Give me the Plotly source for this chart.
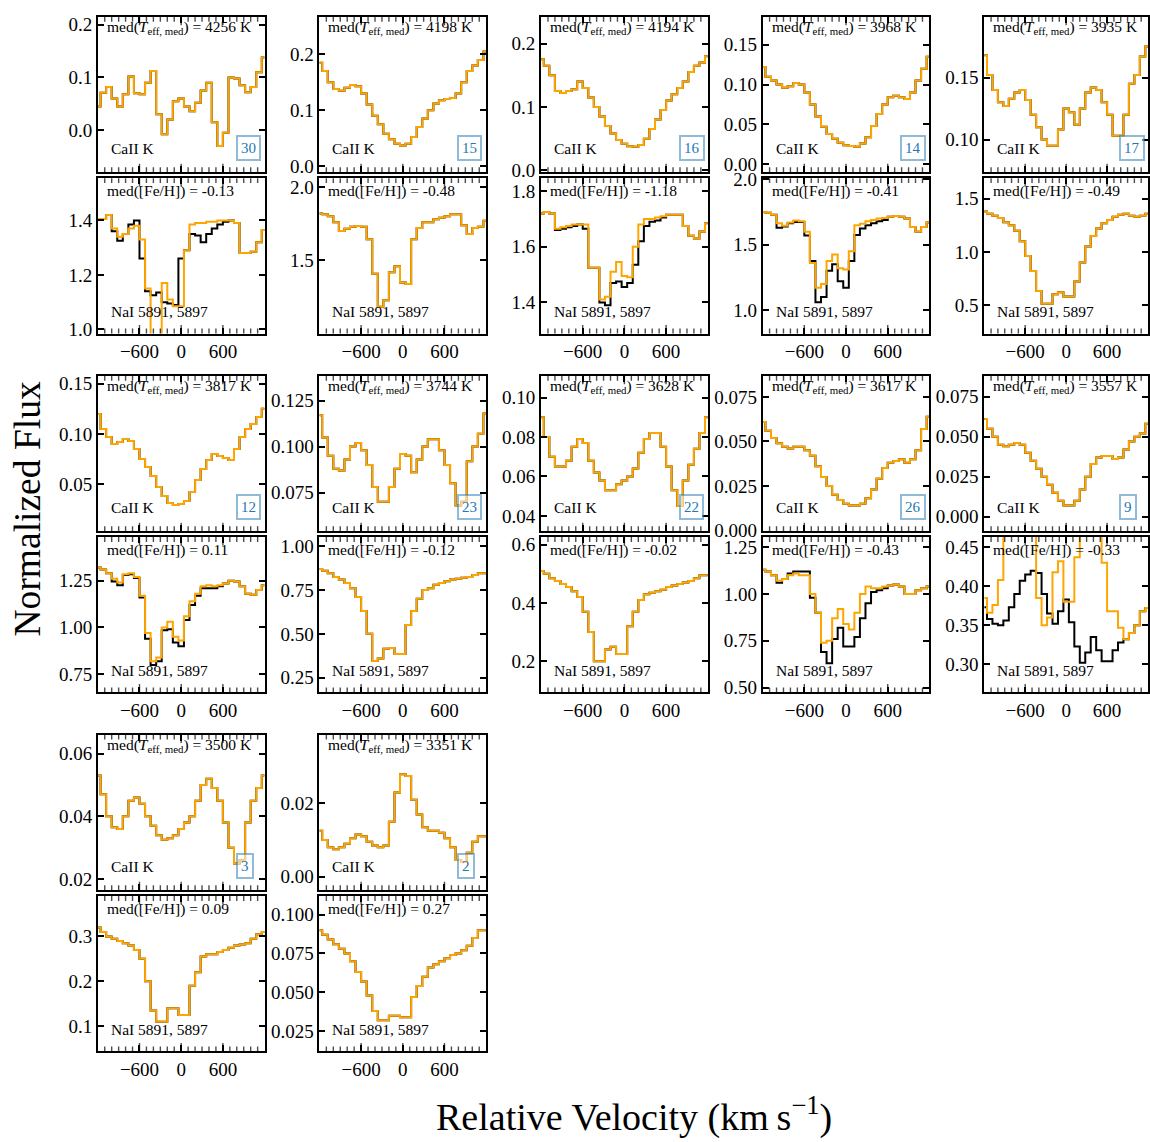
import plotly.graph_objects as go

# ---------------- data ----------------
velocity = [-1200, -1120, -1040, -960, -880, -800, -720, -640, -560, -480, -400, -320,
            -240, -160, -80, 0, 80, 160, 240, 320, 400, 480, 560, 640, 720, 800, 880,
            960, 1040, 1120, 1200]

teff_med = [4256, 4198, 4194, 3968, 3935, 3817, 3744, 3628, 3617, 3557, 3500, 3351]
feh_med = ["-0.13", "-0.48", "-1.18", "-0.41", "-0.49", "0.11", "-0.12", "-0.02",
           "-0.43", "-0.33", "0.09", "0.27"]
n_stars = [30, 15, 16, 14, 17, 12, 23, 22, 26, 9, 3, 2]

caii_4256 = [0.045, 0.071, 0.082, 0.060, 0.045, 0.068, 0.102, 0.070, 0.068, 0.090, 0.112, 0.030,
             -0.008, 0.020, 0.055, 0.060, 0.045, 0.036, 0.052, 0.075, 0.090, 0.015, -0.030,
             -0.005, 0.100, 0.098, 0.085, 0.072, 0.082, 0.110, 0.138]
caii_4198 = [0.185, 0.170, 0.150, 0.138, 0.135, 0.140, 0.145, 0.143, 0.130, 0.110, 0.090, 0.075,
             0.058, 0.048, 0.040, 0.037, 0.040, 0.052, 0.070, 0.085, 0.100, 0.112, 0.118, 0.120,
             0.122, 0.130, 0.150, 0.170, 0.180, 0.190, 0.205]
caii_4194 = [0.175, 0.165, 0.150, 0.125, 0.122, 0.125, 0.128, 0.140, 0.130, 0.115, 0.100, 0.085,
             0.070, 0.058, 0.048, 0.042, 0.038, 0.037, 0.040, 0.050, 0.065, 0.080, 0.095, 0.110,
             0.120, 0.130, 0.140, 0.155, 0.165, 0.170, 0.180]
caii_3968 = [0.122, 0.110, 0.105, 0.100, 0.096, 0.098, 0.102, 0.100, 0.090, 0.075, 0.060, 0.047,
             0.038, 0.032, 0.027, 0.024, 0.023, 0.022, 0.026, 0.034, 0.048, 0.063, 0.075, 0.084,
             0.086, 0.084, 0.082, 0.090, 0.105, 0.120, 0.135]
caii_3935 = [0.168, 0.152, 0.140, 0.130, 0.127, 0.133, 0.138, 0.140, 0.132, 0.120, 0.110, 0.100,
             0.095, 0.095, 0.108, 0.125, 0.122, 0.112, 0.125, 0.138, 0.142, 0.140, 0.130, 0.120,
             0.103, 0.103, 0.120, 0.145, 0.152, 0.167, 0.175]
caii_3817 = [0.120, 0.105, 0.097, 0.090, 0.092, 0.095, 0.093, 0.085, 0.075, 0.067, 0.058, 0.047,
             0.038, 0.031, 0.029, 0.030, 0.033, 0.042, 0.054, 0.065, 0.074, 0.080, 0.078, 0.076,
             0.074, 0.085, 0.097, 0.105, 0.110, 0.117, 0.125]
caii_3744 = [0.117, 0.105, 0.095, 0.088, 0.087, 0.093, 0.100, 0.102, 0.098, 0.090, 0.078, 0.070,
             0.070, 0.078, 0.088, 0.096, 0.095, 0.086, 0.093, 0.100, 0.104, 0.104, 0.098, 0.090,
             0.080, 0.068, 0.070, 0.092, 0.100, 0.107, 0.118]
caii_3628 = [0.090, 0.080, 0.070, 0.065, 0.065, 0.068, 0.075, 0.079, 0.077, 0.068, 0.062, 0.058,
             0.053, 0.053, 0.056, 0.058, 0.060, 0.064, 0.072, 0.079, 0.082, 0.082, 0.075, 0.065,
             0.053, 0.045, 0.058, 0.066, 0.074, 0.082, 0.090]
caii_3617 = [0.061, 0.056, 0.052, 0.049, 0.047, 0.046, 0.047, 0.047, 0.045, 0.042, 0.036, 0.030,
             0.025, 0.020, 0.017, 0.015, 0.014, 0.014, 0.015, 0.018, 0.023, 0.029, 0.035, 0.038,
             0.039, 0.040, 0.038, 0.040, 0.045, 0.057, 0.064]
caii_3557 = [0.061, 0.055, 0.050, 0.045, 0.044, 0.045, 0.046, 0.045, 0.040, 0.035, 0.030, 0.025,
             0.020, 0.015, 0.010, 0.007, 0.007, 0.010, 0.017, 0.025, 0.033, 0.037, 0.038, 0.038,
             0.036, 0.037, 0.042, 0.047, 0.050, 0.052, 0.058]
caii_3500 = [0.053, 0.047, 0.040, 0.0365, 0.036, 0.040, 0.045, 0.046, 0.044, 0.040, 0.037, 0.034,
             0.0325, 0.033, 0.034, 0.036, 0.038, 0.040, 0.045, 0.050, 0.052, 0.049, 0.045, 0.038,
             0.030, 0.025, 0.026, 0.038, 0.045, 0.049, 0.053]
caii_3351 = [0.0125, 0.0100, 0.0080, 0.0075, 0.0080, 0.0090, 0.0105, 0.0115, 0.0110, 0.0095,
             0.0085, 0.0080, 0.0085, 0.0150, 0.0230, 0.0280, 0.0275, 0.0210, 0.0170, 0.0135,
             0.0125, 0.0125, 0.0120, 0.0105, 0.0080, 0.0045, 0.0040, 0.0065, 0.0095, 0.0110, 0.0110]

nai_orange_4256 = [1.405, 1.405, 1.420, 1.370, 1.340, 1.350, 1.370, 1.380, 1.330, 1.150, 0.950,
                   0.950, 1.170, 1.110, 1.085, 1.085, 1.290, 1.385, 1.390, 1.390, 1.395, 1.395,
                   1.400, 1.400, 1.400, 1.390, 1.280, 1.280, 1.285, 1.320, 1.365]
nai_black_4256 = [1.405, 1.405, 1.420, 1.360, 1.325, 1.350, 1.385, 1.400, 1.260, 1.140, 1.125,
                  1.135, 1.100, 1.095, 1.090, 1.260, 1.290, 1.350, 1.345, 1.320, 1.350, 1.370,
                  1.385, 1.395, 1.400, 1.390, 1.280, 1.280, 1.285, 1.320, 1.365]
nai_orange_4198 = [1.820, 1.815, 1.800, 1.760, 1.700, 1.715, 1.730, 1.735, 1.730, 1.645, 1.410,
                   1.185, 1.230, 1.420, 1.460, 1.350, 1.340, 1.645, 1.720, 1.760, 1.760, 1.780,
                   1.790, 1.800, 1.815, 1.815, 1.740, 1.680, 1.720, 1.730, 1.770]
nai_black_4198 = nai_orange_4198
nai_orange_4194 = [1.720, 1.725, 1.720, 1.665, 1.670, 1.675, 1.680, 1.680, 1.680, 1.525, 1.525,
                   1.410, 1.420, 1.510, 1.545, 1.495, 1.490, 1.600, 1.680, 1.700, 1.700, 1.705,
                   1.710, 1.715, 1.715, 1.715, 1.675, 1.640, 1.630, 1.655, 1.685]
nai_black_4194 = [1.720, 1.725, 1.720, 1.660, 1.665, 1.670, 1.675, 1.680, 1.665, 1.525, 1.525,
                  1.400, 1.390, 1.470, 1.475, 1.455, 1.470, 1.535, 1.620, 1.675, 1.690, 1.695,
                  1.705, 1.715, 1.715, 1.715, 1.675, 1.640, 1.630, 1.655, 1.685]
nai_orange_3968 = [1.750, 1.745, 1.730, 1.665, 1.645, 1.670, 1.685, 1.680, 1.600, 1.360, 1.170,
                   1.200, 1.375, 1.425, 1.320, 1.310, 1.450, 1.650, 1.660, 1.680, 1.690, 1.700,
                   1.705, 1.715, 1.720, 1.715, 1.700, 1.635, 1.600, 1.635, 1.670]
nai_black_3968 = [1.750, 1.745, 1.730, 1.630, 1.640, 1.665, 1.675, 1.675, 1.570, 1.375, 1.060,
                  1.100, 1.300, 1.350, 1.220, 1.170, 1.375, 1.575, 1.625, 1.650, 1.665, 1.680,
                  1.690, 1.715, 1.720, 1.715, 1.700, 1.635, 1.600, 1.635, 1.670]
nai_orange_3935 = [1.380, 1.360, 1.340, 1.320, 1.280, 1.250, 1.200, 1.100, 0.960, 0.820, 0.630,
                   0.510, 0.510, 0.600, 0.620, 0.580, 0.580, 0.720, 0.900, 1.050, 1.150, 1.220,
                   1.270, 1.300, 1.330, 1.350, 1.360, 1.340, 1.330, 1.340, 1.360]
nai_black_3935 = nai_orange_3935
nai_orange_3817 = [1.320, 1.310, 1.290, 1.260, 1.240, 1.285, 1.290, 1.270, 1.170, 0.970, 0.820,
                   0.840, 1.000, 1.030, 0.950, 0.930, 1.060, 1.140, 1.180, 1.220, 1.225, 1.220,
                   1.225, 1.235, 1.250, 1.245, 1.220, 1.180, 1.175, 1.200, 1.225]
nai_black_3817 = [1.320, 1.310, 1.290, 1.245, 1.225, 1.280, 1.285, 1.265, 1.160, 0.940, 0.800,
                  0.820, 0.985, 0.990, 0.920, 0.900, 1.040, 1.120, 1.170, 1.210, 1.210, 1.210,
                  1.220, 1.235, 1.250, 1.245, 1.220, 1.180, 1.175, 1.200, 1.225]
nai_orange_3744 = [0.870, 0.860, 0.845, 0.825, 0.810, 0.790, 0.760, 0.710, 0.630, 0.500, 0.345,
                   0.360, 0.415, 0.420, 0.385, 0.385, 0.550, 0.630, 0.700, 0.750, 0.760, 0.780,
                   0.790, 0.800, 0.810, 0.815, 0.820, 0.825, 0.835, 0.845, 0.845]
nai_black_3744 = nai_orange_3744
nai_orange_3628 = [0.510, 0.500, 0.485, 0.475, 0.465, 0.455, 0.440, 0.420, 0.370, 0.300, 0.200,
                   0.200, 0.240, 0.250, 0.225, 0.225, 0.320, 0.370, 0.410, 0.430, 0.435, 0.440,
                   0.445, 0.455, 0.460, 0.465, 0.470, 0.475, 0.485, 0.495, 0.495]
nai_black_3628 = nai_orange_3628
nai_orange_3617 = [1.130, 1.120, 1.100, 1.070, 1.080, 1.100, 1.110, 1.100, 1.100, 1.000, 0.900,
                   0.740, 0.750, 0.870, 0.920, 0.840, 0.810, 0.900, 1.000, 1.040, 1.030, 1.030,
                   1.040, 1.045, 1.050, 1.040, 1.000, 1.000, 1.020, 1.030, 1.040]
nai_black_3617 = [1.130, 1.120, 1.100, 1.060, 1.080, 1.110, 1.120, 1.120, 1.120, 0.980, 0.900,
                  0.690, 0.630, 0.760, 0.820, 0.720, 0.720, 0.770, 0.870, 0.950, 1.010, 1.020,
                  1.030, 1.045, 1.050, 1.040, 1.000, 1.000, 1.020, 1.030, 1.040]
nai_orange_3557 = [0.385, 0.366, 0.376, 0.408, 0.480, 0.500, 0.520, 0.500, 0.480, 0.470, 0.385,
                   0.350, 0.360, 0.418, 0.432, 0.380, 0.380, 0.437, 0.480, 0.500, 0.500, 0.480,
                   0.430, 0.368, 0.368, 0.347, 0.332, 0.340, 0.350, 0.368, 0.372]
nai_black_3557 = [0.373, 0.358, 0.352, 0.350, 0.356, 0.373, 0.390, 0.407, 0.415, 0.420, 0.417,
                  0.390, 0.365, 0.352, 0.368, 0.383, 0.354, 0.323, 0.302, 0.315, 0.335, 0.318,
                  0.304, 0.304, 0.318, 0.328, 0.332, 0.340, 0.350, 0.368, 0.372]
nai_orange_3500 = [0.320, 0.310, 0.300, 0.295, 0.290, 0.285, 0.280, 0.270, 0.250, 0.200, 0.135,
                   0.110, 0.110, 0.140, 0.140, 0.125, 0.125, 0.190, 0.220, 0.255, 0.260, 0.260,
                   0.265, 0.270, 0.275, 0.280, 0.282, 0.285, 0.295, 0.305, 0.310]
nai_black_3500 = nai_orange_3500
nai_orange_3351 = [0.090, 0.087, 0.084, 0.081, 0.078, 0.075, 0.070, 0.063, 0.057, 0.048, 0.038,
                   0.032, 0.032, 0.035, 0.035, 0.034, 0.034, 0.047, 0.054, 0.060, 0.066, 0.068,
                   0.070, 0.072, 0.074, 0.075, 0.077, 0.080, 0.085, 0.090, 0.090]
nai_black_3351 = nai_orange_3351

caii_series = [caii_4256, caii_4198, caii_4194, caii_3968, caii_3935, caii_3817,
               caii_3744, caii_3628, caii_3617, caii_3557, caii_3500, caii_3351]
nai_orange = [nai_orange_4256, nai_orange_4198, nai_orange_4194, nai_orange_3968,
              nai_orange_3935, nai_orange_3817, nai_orange_3744, nai_orange_3628,
              nai_orange_3617, nai_orange_3557, nai_orange_3500, nai_orange_3351]
nai_black = [nai_black_4256, nai_black_4198, nai_black_4194, nai_black_3968,
             nai_black_3935, nai_black_3817, nai_black_3744, nai_black_3628,
             nai_black_3617, nai_black_3557, nai_black_3500, nai_black_3351]

x_major_step = 600   # labelled ticks at -600, 0, 600
x_minor_step = 100
caii_ticklabels = [["0.0", "0.1", "0.2"], ["0.0", "0.1", "0.2"], ["0.0", "0.1", "0.2"],
                   ["0.00", "0.05", "0.10", "0.15"], ["0.10", "0.15"], ["0.05", "0.10", "0.15"],
                   ["0.075", "0.100", "0.125"], ["0.04", "0.06", "0.08", "0.10"],
                   ["0.000", "0.025", "0.050", "0.075"], ["0.000", "0.025", "0.050", "0.075"],
                   ["0.02", "0.04", "0.06"], ["0.00", "0.02"]]
nai_ticklabels = [["1.0", "1.2", "1.4"], ["1.5", "2.0"], ["1.4", "1.6", "1.8"],
                  ["1.0", "1.5", "2.0"], ["0.5", "1.0", "1.5"], ["0.75", "1.00", "1.25"],
                  ["0.25", "0.50", "0.75", "1.00"], ["0.2", "0.4", "0.6"],
                  ["0.50", "0.75", "1.00", "1.25"], ["0.30", "0.35", "0.40", "0.45"],
                  ["0.1", "0.2", "0.3"], ["0.025", "0.050", "0.075", "0.100"]]

# ---------------- layout / style ----------------
W, H = 1150, 1142
FONT = "Liberation Serif"
ORANGE = "#FFA500"
X_RANGE = [-1199.5, 1199.5]
caii_ranges = [[-0.08, 0.215], [-0.011, 0.267], [-0.003, 0.242], [-0.01, 0.185],
               [0.0736, 0.199], [0.003, 0.158], [0.054, 0.1385], [0.0323, 0.111],
               [-0.0005, 0.087], [-0.009, 0.088], [0.0165, 0.066], [-0.0037, 0.0388]]
nai_ranges = [[0.985, 1.555], [1.003, 2.06], [1.288, 1.847], [0.82, 2.01], [0.23, 1.695],
              [0.653, 1.483], [0.166, 1.052], [0.093, 0.626], [0.474, 1.304],
              [0.264, 0.463], [0.044, 0.39], [0.012, 0.112]]

# positions of the x tick marks on top and bottom spines (major every 600, minor every 100)
tick_positions = list(range(-1100, 1101, x_minor_step))
tick_sizes = [12 if v % x_major_step == 0 else 7 for v in tick_positions]

fig = go.Figure()
layout = dict(width=W, height=H, margin=dict(l=0, r=0, t=0, b=0),
              paper_bgcolor="white", plot_bgcolor="white", showlegend=False,
              font=dict(family=FONT, color="black"))
annotations = []

axis_common = dict(showline=True, linecolor="black", linewidth=1.8, mirror="allticks",
                   ticks="inside", ticklen=6, tickwidth=1.6, tickcolor="black",
                   showgrid=False, zeroline=False,
                   tickfont=dict(family=FONT, size=19, color="black"))

for k in range(12):
    block, col = divmod(k, 5)
    x0 = (98 + 222 * col) / W
    x1 = min((265 + 222 * col) / W, 1.0)
    for j, kind in enumerate(["caii", "nai"]):
        n = 2 * k + 1 + j
        top = 8 + 365 * block + 164 * j
        bot = top + 158
        ydom = [1 - bot / H, 1 - top / H]
        if kind == "caii":
            labels = caii_ticklabels[k]
            yr = caii_ranges[k]
            yb, yo = caii_series[k], caii_series[k]
        else:
            labels = nai_ticklabels[k]
            yr = nai_ranges[k]
            yb, yo = nai_black[k], nai_orange[k]
        xa = dict(axis_common, domain=[x0, x1], range=X_RANGE, anchor=f"y{n}",
                  tickmode="linear", tick0=0, dtick=x_major_step,
                  showticklabels=(kind == "nai"))
        ya = dict(axis_common, domain=ydom, range=yr, anchor=f"x{n}",
                  tickmode="array", tickvals=[float(v) for v in labels], ticktext=labels)
        suffix = "" if n == 1 else str(n)
        layout["xaxis" + suffix] = xa
        layout["yaxis" + suffix] = ya
        xref, yref = f"x{suffix}", f"y{suffix}"
        fig.add_trace(go.Scatter(x=velocity, y=yb, mode="lines", xaxis=xref, yaxis=yref,
                                 line=dict(color="black", width=2, shape="hvh"),
                                 hoverinfo="skip"))
        fig.add_trace(go.Scatter(x=velocity, y=yo, mode="lines", xaxis=xref, yaxis=yref,
                                 line=dict(color=ORANGE, width=2, shape="hvh"),
                                 hoverinfo="skip"))
        # x tick marks on bottom and top spines (half of each clipped outside the frame)
        fig.add_trace(go.Scatter(x=tick_positions + tick_positions,
                                 y=[yr[0]] * len(tick_positions) + [yr[1]] * len(tick_positions),
                                 mode="markers", xaxis=xref, yaxis=yref, cliponaxis=True,
                                 marker=dict(symbol="line-ns-open", size=tick_sizes + tick_sizes,
                                             color="black",
                                             line=dict(color="black", width=1.4)),
                                 hoverinfo="skip"))
        dx, dy = f"{xref} domain", f"{yref} domain"
        if kind == "caii":
            top_text = f"med(<i>T</i><sub>eff, med</sub>) = {teff_med[k]} K"
            bot_text = "CaII K"
            top_shift, bot_shift = -11, 24
        else:
            top_text = f"med([Fe/H]) = {feh_med[k]}"
            bot_text = "NaI 5891, 5897"
            top_shift, bot_shift = -13, 22
        annotations.append(dict(text=top_text, xref=dx, yref=dy, x=0, y=1,
                                xanchor="left", yanchor="middle", xshift=7, yshift=top_shift,
                                showarrow=False, font=dict(family=FONT, size=15.5, color="black")))
        annotations.append(dict(text=bot_text, xref=dx, yref=dy, x=0, y=0,
                                xanchor="left", yanchor="middle", xshift=11, yshift=bot_shift,
                                showarrow=False, font=dict(family=FONT, size=15.5, color="black")))
        if kind == "caii":
            annotations.append(dict(text=str(n_stars[k]), xref=dx, yref=dy, x=1, y=0,
                                    xanchor="left", yanchor="bottom", xshift=-29, yshift=11,
                                    showarrow=False,
                                    font=dict(family=FONT, size=15, color="#1f77b4"),
                                    bordercolor="rgba(31,119,180,0.5)", borderwidth=2,
                                    borderpad=3, bgcolor="rgba(255,255,255,0.5)"))

annotations.append(dict(text="Normalized Flux", xref="paper", yref="paper",
                        x=28 / W, y=1 - 508 / H, xanchor="center", yanchor="middle",
                        textangle=-90, showarrow=False,
                        font=dict(family=FONT, size=37.5, color="black")))
annotations.append(dict(text="Relative Velocity (km\u2009s<sup>\u22121</sup>)",
                        xref="paper", yref="paper",
                        x=635 / W, y=1 - 1124 / H, xanchor="center", yanchor="middle",
                        showarrow=False, font=dict(family=FONT, size=38, color="black")))
layout["annotations"] = annotations
fig.update_layout(**layout)
fig.write_html("out.html")
